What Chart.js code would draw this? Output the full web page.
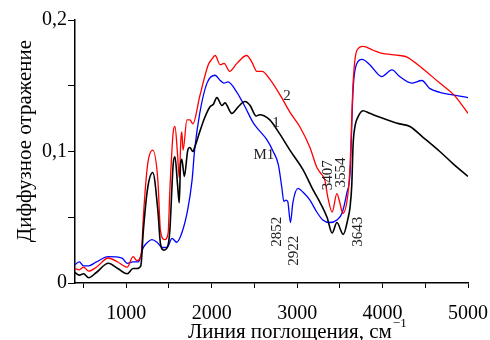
<!DOCTYPE html>
<html lang="ru">
<head>
<meta charset="UTF-8">
<title>Диффузное отражение</title>
<style>
  body { margin: 0; background: #fff; }
  #wrap { width: 490px; height: 340px; position: relative; }
</style>
<script src="https://cdn.jsdelivr.net/npm/chart.js@4"></script>
</head>
<body>
<div id="wrap"><canvas id="spectra"></canvas></div>
<script>
// спектр 1 (чёрный)
const wave1 = [400, 450, 500, 560, 650, 790, 900, 1010, 1080, 1125, 1170, 1200, 1250, 1310, 1370, 1400, 1440, 1490, 1510, 1550, 1570, 1600, 1620, 1635, 1650, 1680, 1720, 1745, 1780, 1800, 1860, 1920, 1980, 2020, 2060, 2120, 2155, 2235, 2310, 2390, 2450, 2520, 2560, 2680, 2800, 2915, 3070, 3185, 3270, 3350, 3410, 3465, 3540, 3595, 3620, 3640, 3655, 3680, 3710, 3770, 3850, 3970, 4100, 4200, 4320, 4470, 4670, 4820, 5000];
const refl1 = [0.008, 0.006, 0.007, 0.004, 0.008, 0.015, 0.011, 0.007, 0.011, 0.011, 0.013, 0.040, 0.072, 0.084, 0.055, 0.030, 0.025, 0.029, 0.040, 0.091, 0.096, 0.075, 0.061, 0.090, 0.094, 0.081, 0.101, 0.103, 0.100, 0.103, 0.115, 0.126, 0.134, 0.136, 0.141, 0.135, 0.137, 0.129, 0.134, 0.138, 0.135, 0.127, 0.128, 0.124, 0.113, 0.101, 0.086, 0.071, 0.061, 0.050, 0.038, 0.046, 0.037, 0.049, 0.058, 0.075, 0.105, 0.120, 0.126, 0.131, 0.129, 0.126, 0.123, 0.121, 0.119, 0.111, 0.100, 0.091, 0.081];

// спектр 2 (красный)
const wave2 = [400, 450, 500, 560, 650, 790, 900, 1010, 1080, 1125, 1160, 1180, 1200, 1250, 1310, 1370, 1400, 1450, 1490, 1510, 1550, 1570, 1600, 1620, 1640, 1650, 1665, 1710, 1745, 1780, 1860, 1960, 2000, 2040, 2100, 2145, 2210, 2295, 2410, 2470, 2530, 2590, 2680, 2800, 2915, 3030, 3150, 3230, 3270, 3325, 3360, 3410, 3465, 3500, 3535, 3595, 3620, 3655, 3700, 3770, 3890, 3970, 4200, 4280, 4470, 4670, 4820, 4900, 5000];
const refl2 = [0.011, 0.010, 0.012, 0.009, 0.012, 0.019, 0.016, 0.012, 0.020, 0.017, 0.019, 0.025, 0.050, 0.090, 0.101, 0.078, 0.040, 0.033, 0.038, 0.070, 0.115, 0.119, 0.098, 0.080, 0.110, 0.115, 0.101, 0.124, 0.124, 0.121, 0.142, 0.166, 0.170, 0.173, 0.166, 0.167, 0.161, 0.167, 0.173, 0.168, 0.161, 0.161, 0.155, 0.143, 0.130, 0.119, 0.103, 0.088, 0.084, 0.078, 0.065, 0.054, 0.068, 0.061, 0.053, 0.068, 0.090, 0.152, 0.177, 0.180, 0.177, 0.175, 0.173, 0.172, 0.163, 0.152, 0.144, 0.138, 0.129];

// образец М1 (синий)
const waveM1 = [400, 450, 500, 560, 650, 790, 950, 1010, 1080, 1140, 1200, 1250, 1300, 1360, 1420, 1480, 1535, 1590, 1650, 1720, 1770, 1800, 1860, 1945, 2040, 2100, 2145, 2190, 2295, 2390, 2485, 2530, 2645, 2720, 2780, 2820, 2845, 2870, 2890, 2922, 2950, 3010, 3070, 3150, 3230, 3300, 3385, 3465, 3525, 3580, 3620, 3655, 3700, 3760, 3850, 3990, 4110, 4200, 4340, 4460, 4550, 4670, 4820, 5000];
const reflM1 = [0.014, 0.016, 0.013, 0.013, 0.016, 0.020, 0.019, 0.015, 0.016, 0.016, 0.027, 0.031, 0.033, 0.031, 0.027, 0.027, 0.034, 0.031, 0.038, 0.056, 0.078, 0.101, 0.129, 0.152, 0.158, 0.154, 0.152, 0.153, 0.145, 0.134, 0.122, 0.118, 0.109, 0.100, 0.090, 0.073, 0.062, 0.063, 0.062, 0.046, 0.061, 0.072, 0.069, 0.063, 0.054, 0.048, 0.046, 0.048, 0.053, 0.068, 0.084, 0.147, 0.167, 0.170, 0.166, 0.157, 0.162, 0.157, 0.152, 0.154, 0.148, 0.145, 0.143, 0.141];

const xTicks = [500, 1000, 1500, 2000, 2500, 3000, 3500, 4000, 4500, 5000];
const yTicks = [0, 0.05, 0.1, 0.15, 0.2];
const curveNames = ['1', '2', 'M1'];
const peakNames = ['2852', '2922', '3407', '3554', '3643'];

function toPoints(xs, ys) {
    return xs.map((v, i) => ({ x: v, y: ys[i] }));
}

const serif = '"Liberation Serif", "Times New Roman", serif';

// подписи кривых, пиков и осей
const textPlugin = {
    id: 'texts',
    afterDraw(chart) {
        const { ctx } = chart;
        const sx = chart.scales.x, sy = chart.scales.y;
        const curveSpots = [[2752, 0.1215], [2880, 0.142], [2611, 0.0975]];
        const peakSpots = [[2763, 0.039], [2962, 0.0245], [3360, 0.082], [3512, 0.084], [3711, 0.039]];
        ctx.save();
        ctx.fillStyle = '#222';
        ctx.textAlign = 'center';
        ctx.textBaseline = 'middle';
        ctx.font = '15px ' + serif;
        curveNames.forEach((t, i) => {
            ctx.fillText(t, sx.getPixelForValue(curveSpots[i][0]), sy.getPixelForValue(curveSpots[i][1]));
        });
        peakNames.forEach((t, i) => {
            ctx.save();
            ctx.translate(sx.getPixelForValue(peakSpots[i][0]), sy.getPixelForValue(peakSpots[i][1]));
            ctx.rotate(-Math.PI / 2);
            ctx.fillText(t, 0, 0);
            ctx.restore();
        });

        ctx.fillStyle = '#000';
        // ось Y
        ctx.save();
        ctx.font = '21px ' + serif;
        ctx.translate(25, 141);
        ctx.rotate(-Math.PI / 2);
        ctx.fillText('Диффузное отражение', 0, 0);
        ctx.restore();

        // ось X
        ctx.textAlign = 'left';
        ctx.textBaseline = 'alphabetic';
        ctx.font = '21px ' + serif;
        const main = 'Линия поглощения, см';
        const w = ctx.measureText(main).width;
        const x0 = 188;
        ctx.fillText(main, x0, 338);
        ctx.font = '13px ' + serif;
        ctx.fillText('\u22121', x0 + w + 1, 327);
        ctx.restore();
    }
};

const ctx = document.getElementById('spectra').getContext('2d');
new Chart(ctx, {
    type: 'line',
    data: {
        datasets: [
            { label: '1', data: toPoints(wave1, refl1), borderColor: '#000000', borderWidth: 1.6 },
            { label: '2', data: toPoints(wave2, refl2), borderColor: '#ff0000', borderWidth: 1.3 },
            { label: 'M1', data: toPoints(waveM1, reflM1), borderColor: '#0000ff', borderWidth: 1.3 }
        ]
    },
    options: {
        responsive: true,
        maintainAspectRatio: false,
        animation: false,
        parsing: false,
        elements: {
            point: { radius: 0 },
            line: { cubicInterpolationMode: 'monotone', fill: false }
        },
        layout: { padding: { top: 20, right: 22, left: 0, bottom: 0 } },
        plugins: {
            legend: { display: false },
            tooltip: { enabled: false }
        },
        scales: {
            x: {
                type: 'linear',
                min: 400,
                max: 5000,
                afterBuildTicks: (s) => { s.ticks = xTicks.map(v => ({ value: v })); },
                afterFit: (s) => { s.height = 57; s.paddingLeft = 0; s.paddingRight = 0; },
                grid: { drawOnChartArea: false, drawTicks: true, tickLength: 5, color: '#000', tickWidth: 1 },
                border: { display: true, color: '#000', width: 1.5 },
                ticks: {
                    color: '#000',
                    font: { family: serif, size: 20 },
                    padding: 14,
                    maxRotation: 0,
                    autoSkip: false,
                    callback: (v) => (v % 1000 === 0 ? String(v) : '')
                }
            },
            y: {
                type: 'linear',
                min: 0,
                max: 0.2,
                afterBuildTicks: (s) => { s.ticks = yTicks.map(v => ({ value: v })); },
                afterFit: (s) => { s.width = 75; s.paddingTop = 0; s.paddingBottom = 0; },
                grid: { drawOnChartArea: false, drawTicks: true, tickLength: 7, color: '#000', tickWidth: 1 },
                border: { display: true, color: '#000', width: 1.5 },
                ticks: {
                    color: '#000',
                    font: { family: serif, size: 20 },
                    padding: 1,
                    autoSkip: false,
                    callback: (v) => {
                        if (v === 0) return '0';
                        const t = Math.round(v * 100);
                        return t % 10 === 0 ? (v.toFixed(1)).replace('.', ',') : '';
                    }
                }
            }
        }
    },
    plugins: [textPlugin]
});
</script>
</body>
</html>
